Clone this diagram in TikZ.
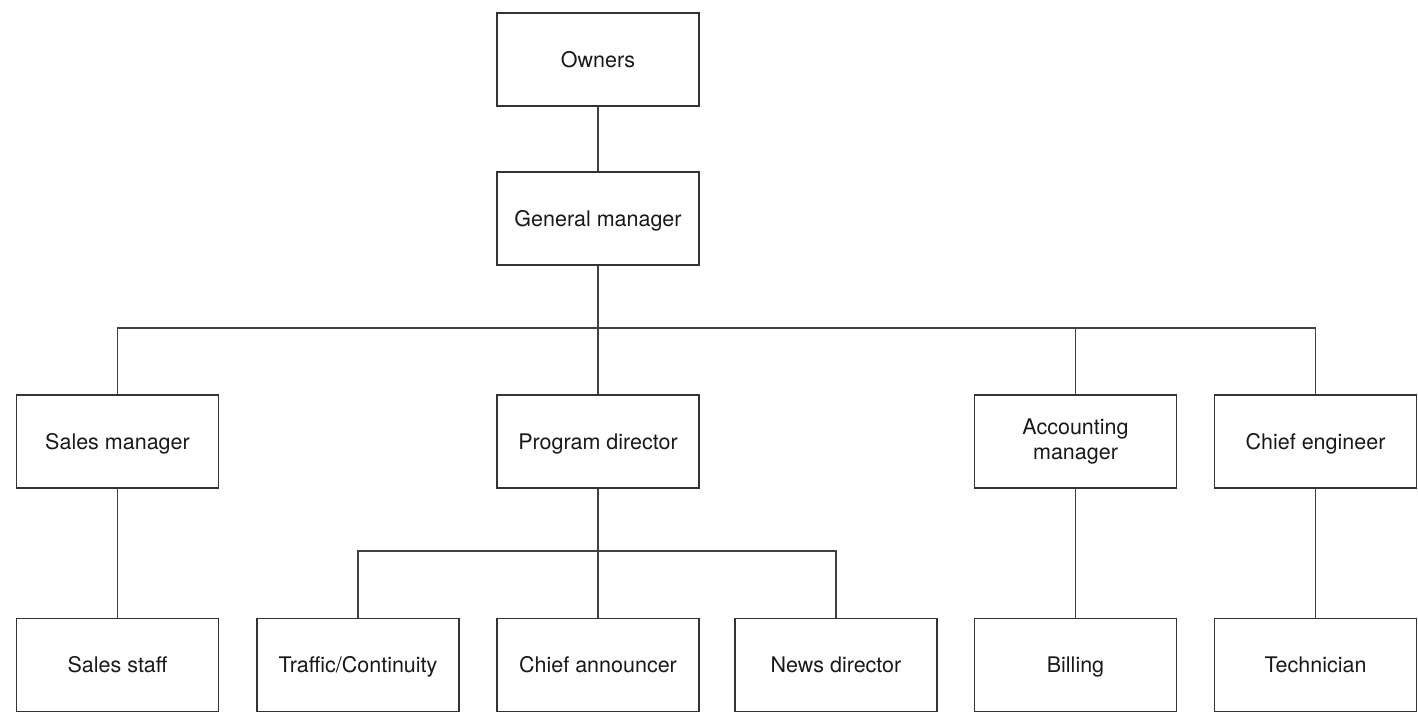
\documentclass[tikz,border=0pt]{standalone}
\usepackage{fontspec}
\setmainfont{TeX Gyre Heros}
\begin{document}
\begin{tikzpicture}[x=1pt,y=-1pt,
  box/.style={draw=black!80, line width=1.6pt, minimum width=202pt, minimum height=93pt,
    inner sep=0pt, align=center, font=\fontsize{21.5}{24.5}\selectfont, text=black!90,
    text height=17.5pt, text depth=2.5pt},
  link/.style={draw=black!75, line width=1.6pt}]
\useasboundingbox (0,0) rectangle (1418,716);
\node[box] (own) at (598,59.5) {Owners};
\node[box] (gm) at (598,218.5) {General manager};
\node[box] (sm) at (117.5,441.5) {Sales manager};
\node[box] (pd) at (598,441.5) {Program director};
\node[box, text height=, text depth=] (am) at (1075.5,441.5) {Accounting\\manager};
\node[box] (ce) at (1315.5,441.5) {Chief engineer};
\node[box] (ss) at (117.5,665) {Sales staff};
\node[box] (tc) at (358,665) {Traffic/Continuity};
\node[box] (ca) at (598,665) {Chief announcer};
\node[box] (nd) at (836,665) {News director};
\node[box] (bi) at (1075.5,665) {Billing};
\node[box] (te) at (1315.5,665) {Technician};
\coordinate (bus1) at (598,328);
\coordinate (bus2) at (598,551);
\draw[link] (own.south) -- (gm.north);
\draw[link] (gm.south) -- (pd.north);
\draw[link] (sm.north) |- (bus1) -| (ce.north);
\draw[link] (am.north) -- (am.north |- bus1);
\draw[link] (sm.south) -- (ss.north);
\draw[link] (pd.south) -- (ca.north);
\draw[link] (tc.north) |- (bus2) -| (nd.north);
\draw[link] (am.south) -- (bi.north);
\draw[link] (ce.south) -- (te.north);
\end{tikzpicture}
\end{document}
